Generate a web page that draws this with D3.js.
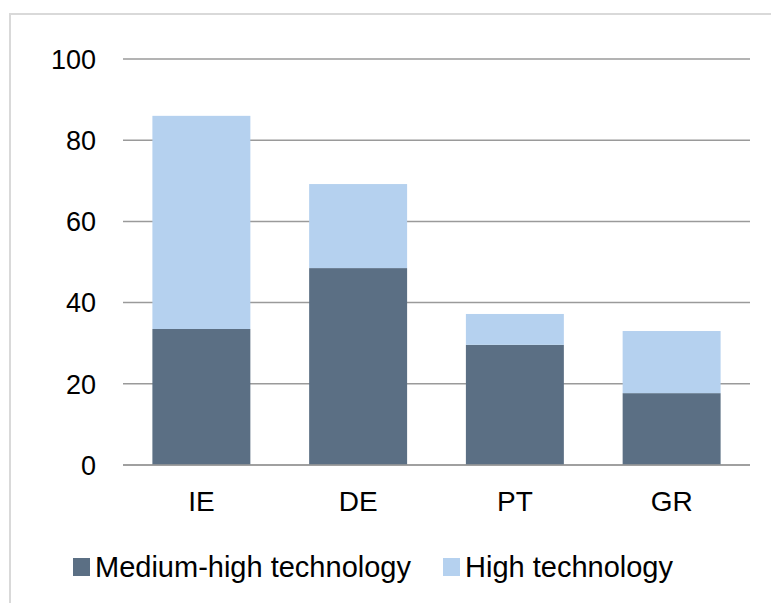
<!DOCTYPE html>
<meta charset="utf-8">
<style>
body { margin: 0; background: #fff; }
text { font-family: "Liberation Sans", Arial, sans-serif; fill: #000; }
.grid line { stroke: #9a9a9a; stroke-width: 1.5px; }
</style>
<svg width="771" height="603"></svg>
<script src="https://cdnjs.cloudflare.com/ajax/libs/d3/7.8.5/d3.min.js"></script>
<script>
var categories = ["IE", "DE", "PT", "GR"];
var mediumHigh = [33.5, 48.5, 29.6, 17.7];
var high = [52.5, 20.7, 7.6, 15.3];
var yTicks = [0, 20, 40, 60, 80, 100];
var seriesNames = ["Medium-high technology", "High technology"];
var colors = ["#5b6f84", "#b5d1ef"];

var svg = d3.select("svg");

// outer frame
svg.append("rect")
    .attr("x", 10).attr("y", 14)
    .attr("width", 780).attr("height", 600)
    .attr("fill", "none")
    .attr("stroke", "#d9d9d9")
    .attr("stroke-width", 2);

var plotLeft = 123, plotRight = 750, plotTop = 59, plotBottom = 465;

var x = d3.scaleBand().domain(categories).range([plotLeft, plotRight])
    .paddingInner(0.375).paddingOuter(0.1875);
var y = d3.scaleLinear().domain([0, 100]).range([plotBottom, plotTop]);

var data = categories.map(function(c, i) {
  return {cat: c, mh: mediumHigh[i], h: high[i]};
});
var stack = d3.stack().keys(["mh", "h"])(data);

// gridlines
var grid = svg.append("g").attr("class", "grid");
grid.selectAll("line").data(yTicks).enter().append("line")
    .attr("x1", plotLeft).attr("x2", plotRight)
    .attr("y1", function(d) { return y(d); })
    .attr("y2", function(d) { return y(d); });

// tick labels
svg.append("g").selectAll("text").data(yTicks).enter().append("text")
    .attr("x", 96)
    .attr("y", function(d) { return y(d); })
    .attr("dy", "0.36em")
    .attr("text-anchor", "end")
    .style("font-size", "27px")
    .text(function(d) { return d; });

// bars
svg.selectAll(".series").data(stack).enter().append("g")
    .attr("class", "series")
    .attr("fill", function(d, i) { return colors[i]; })
  .selectAll("rect").data(function(d) { return d; }).enter().append("rect")
    .attr("x", function(d) { return x(d.data.cat); })
    .attr("width", x.bandwidth())
    .attr("y", function(d) { return y(d[1]); })
    .attr("height", function(d) { return y(d[0]) - y(d[1]); });

// zero axis line on top
svg.append("line")
    .attr("x1", plotLeft).attr("x2", plotRight)
    .attr("y1", y(0)).attr("y2", y(0))
    .attr("stroke", "#9a9a9a").attr("stroke-width", 1.5);

// category labels
svg.append("g").selectAll("text").data(categories).enter().append("text")
    .attr("x", function(d) { return x(d) + x.bandwidth() / 2; })
    .attr("y", 511)
    .attr("text-anchor", "middle")
    .style("font-size", "28px")
    .text(function(d) { return d; });

// legend
var legendX = [73, 443];
var leg = svg.append("g").selectAll("g").data(seriesNames).enter().append("g")
    .attr("transform", function(d, i) { return "translate(" + legendX[i] + ",558)"; });
leg.append("rect")
    .attr("width", 17).attr("height", 18)
    .attr("fill", function(d, i) { return colors[i]; });
leg.append("text")
    .attr("x", 22).attr("y", 19)
    .style("font-size", "29px")
    .text(function(d) { return d; });
</script>
